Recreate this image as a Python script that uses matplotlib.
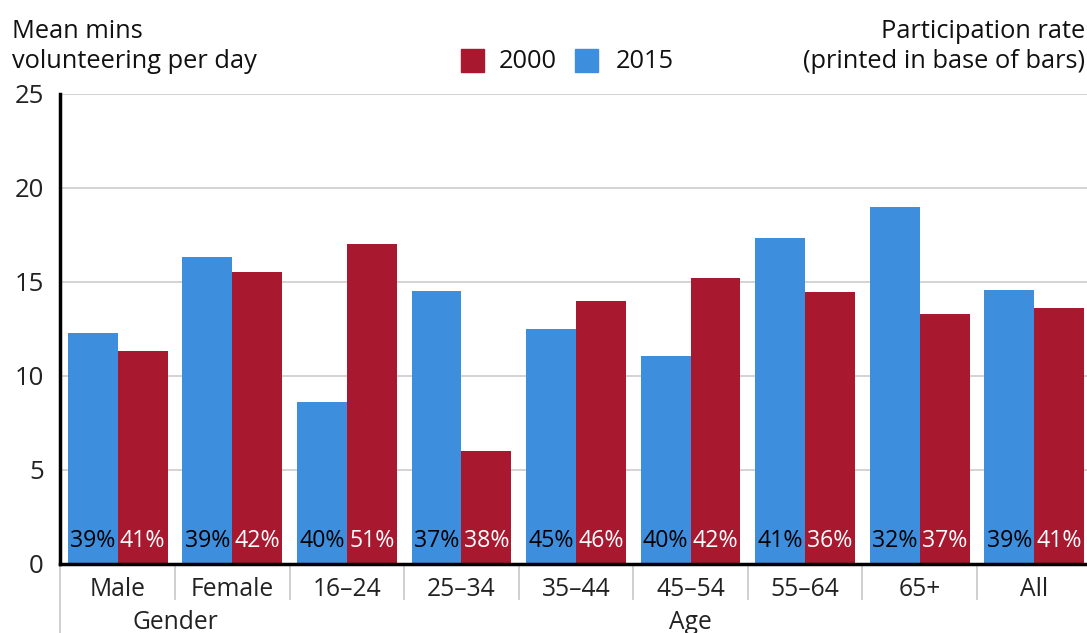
import matplotlib
matplotlib.use("Agg")
import matplotlib.pyplot as plt
from matplotlib.patches import Rectangle
import numpy as np

categories = ["Male", "Female", "16–24", "25–34", "35–44", "45–54", "55–64", "65+", "All"]
groups = [("Gender", 0.5), ("Age", 5.0)]
mins_2015 = [12.25, 16.3, 8.6, 14.5, 12.5, 11.05, 17.35, 19.0, 14.55]
mins_2000 = [11.3, 15.5, 17.0, 6.0, 14.0, 15.2, 14.45, 13.3, 13.6]
rate_2015 = [39, 39, 40, 37, 45, 40, 41, 32, 39]
rate_2000 = [41, 42, 51, 38, 46, 42, 36, 37, 41]
yticks = [0, 5, 10, 15, 20, 25]

RED = "#A8182E"
BLUE = "#3E8EDE"
FONT = "Open Sans"
plt.rcParams["font.family"] = [FONT, "DejaVu Sans"]

W, H = 1087, 633
fig = plt.figure(figsize=(W / 100, H / 100), dpi=100)
x0, x1 = 60.4, 1091.6
y0, y1 = 563.5, 94.0
ax = fig.add_axes([x0 / W, (H - y0) / H, (x1 - x0) / W, (y0 - y1) / H])

x = np.arange(len(categories))
bw = 0.435
ax.bar(x - bw / 2, mins_2015, width=bw, color=BLUE, zorder=2)
ax.bar(x + bw / 2, mins_2000, width=bw, color=RED, zorder=2)

for i in range(len(categories)):
    ax.text(x[i] - bw / 2, 0.88, f"{rate_2015[i]}%", ha="center", va="baseline",
            fontsize=16.7, color="black", zorder=3)
    ax.text(x[i] + bw / 2, 0.88, f"{rate_2000[i]}%", ha="center", va="baseline",
            fontsize=16.7, color="white", zorder=3)

ax.set_xlim(-0.5, len(categories) - 0.5)
ax.set_ylim(0, 25)
ax.set_yticks(yticks)
ax.set_yticklabels([str(t) for t in yticks], fontsize=18.5, color="#222222")
ax.tick_params(axis="y", length=0, pad=12)
ax.set_xticks(x)
ax.set_xticklabels(categories, fontsize=17.7, color="#222222")
ax.tick_params(axis="x", length=0, pad=9.5)
ax.grid(axis="y", color="#d0d0d0", linewidth=1.3, zorder=0)
ax.set_axisbelow(True)
for s in ["top", "right"]:
    ax.spines[s].set_visible(False)
for s in ["left", "bottom"]:
    ax.spines[s].set_linewidth(2.5)
    ax.spines[s].set_color("black")
    ax.spines[s].set_zorder(4)

# separators below axis
for b in np.arange(0.5, len(categories) - 1, 1.0):
    ax.plot([b, b], [0, -1.9], color="#cccccc", lw=1.3, clip_on=False)
ax.plot([-0.5, -0.5], [0, -3.8], color="#cccccc", lw=1.3, clip_on=False)

for name, pos in groups:
    ax.text(pos, -3.15, name, ha="center", va="center", fontsize=17.7,
            color="#222222", clip_on=False)

# titles
TS = 18.3
fig.text(12 / W, 1 - 32 / H, "Mean mins", ha="left", va="center",
         fontsize=TS, color="#111111")
fig.text(12 / W, 1 - 62 / H, "volunteering per day", ha="left", va="center",
         fontsize=TS, color="#111111")
fig.text(1085 / W, 1 - 32 / H, "Participation rate", ha="right", va="center",
         fontsize=TS, color="#111111")
fig.text(1085 / W, 1 - 62 / H, "(printed in base of bars)", ha="right", va="center",
         fontsize=TS, color="#111111")

# legend
for (lx, col, lab, tx) in [(461, RED, "2000", 499), (575, BLUE, "2015", 616)]:
    fig.patches.append(Rectangle((lx / W, 1 - 72 / H), 23 / W, 23 / H,
                                 transform=fig.transFigure, color=col))
    fig.text(tx / W, 1 - 62 / H, lab, ha="left", va="center", fontsize=TS,
             color="#111111")

fig.savefig("out.png", dpi=100)
